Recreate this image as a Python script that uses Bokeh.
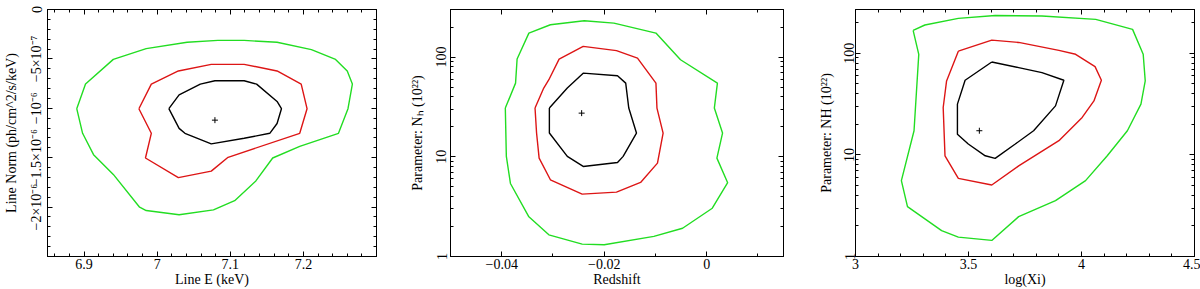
from bokeh.plotting import figure
from bokeh.models import Range1d, FixedTicker, LinearAxis, LogAxis
from bokeh.layouts import row
from bokeh.embed import file_html
from bokeh.resources import INLINE

# ---------------- Panel 1: Line E vs Line Norm ----------------
p1_green_x = [6.890, 6.902, 6.940, 6.985, 7.041, 7.083, 7.119, 7.164, 7.211, 7.244, 7.260, 7.267,
              7.261, 7.248, 7.195, 7.158, 7.135, 7.106, 7.077, 7.030, 6.985, 6.976, 6.940, 6.913, 6.898, 6.890]
p1_green_y = [-1.004e-6, -0.755e-6, -0.505e-6, -0.396e-6, -0.332e-6, -0.313e-6, -0.313e-6, -0.332e-6,
              -0.406e-6, -0.505e-6, -0.622e-6, -0.755e-6, -1.004e-6, -1.253e-6, -1.386e-6, -1.503e-6,
              -1.735e-6, -1.935e-6, -2.028e-6, -2.078e-6, -2.035e-6, -2.001e-6, -1.669e-6, -1.469e-6,
              -1.253e-6, -1.004e-6]
p1_red_x = [6.975, 6.992, 7.029, 7.074, 7.119, 7.164, 7.197, 7.205, 7.195, 7.097, 7.074, 7.029, 6.984, 6.992, 6.975]
p1_red_y = [-1.004e-6, -0.755e-6, -0.622e-6, -0.555e-6, -0.555e-6, -0.622e-6, -0.755e-6, -1.004e-6,
            -1.253e-6, -1.496e-6, -1.636e-6, -1.702e-6, -1.503e-6, -1.253e-6, -1.004e-6]
p1_black_x = [7.016, 7.030, 7.059, 7.079, 7.119, 7.136, 7.164, 7.170, 7.164, 7.154, 7.119, 7.074, 7.038, 7.030, 7.016]
p1_black_y = [-1.004e-6, -0.864e-6, -0.755e-6, -0.721e-6, -0.721e-6, -0.755e-6, -0.931e-6, -1.004e-6,
              -1.154e-6, -1.253e-6, -1.303e-6, -1.360e-6, -1.253e-6, -1.203e-6, -1.004e-6]
p1_best = (7.079, -1.12e-6)
p1_xticks = [6.9, 7.0, 7.1, 7.2]
p1_xlabels = ["6.9", "7", "7.1", "7.2"]
p1_yticks = [-2e-6, -1.5e-6, -1e-6, -5e-7, 0.0]
p1_ylabels = ["\u22122\u00d710\u207b\u2076", "\u22121.5\u00d710\u207b\u2076", "\u221210\u207b\u2076",
              "\u22125\u00d710\u207b\u2077", "0"]

# ---------------- Panel 2: Redshift vs NH ----------------
p2_green_x = [-0.0393, -0.0391, -0.0383, -0.0347, -0.0308, -0.0243, -0.0200, -0.0103, -0.0047, 0.0011,
              0.0041, 0.0020, 0.0031, 0.0015, 0.0021, -0.0051, -0.0099, -0.0181, -0.0239, -0.0305,
              -0.0347, -0.0370, -0.0373, -0.0393]
p2_green_y = [30.8, 10.1, 5.4, 2.5, 1.65, 1.33, 1.31, 1.59, 1.92, 3.05, 5.5, 9.7, 17.3, 30.8, 54.8, 94,
              174, 219, 231, 211, 174, 95.5, 54.8, 30.8]
p2_red_x = [-0.0335, -0.0332, -0.0327, -0.0305, -0.0243, -0.0176, -0.0129, -0.0096, -0.0085, -0.0097,
            -0.0099, -0.0135, -0.0176, -0.0241, -0.0288, -0.0308, -0.0318, -0.0335]
p2_red_y = [30.8, 17.3, 9.7, 5.88, 4.22, 4.42, 5.53, 8.64, 17.3, 30.8, 54.8, 97.7, 116, 128, 95.5, 59.3, 48.9, 30.8]
p2_black_x = [-0.0307, -0.0307, -0.0272, -0.0241, -0.0174, -0.0163, -0.0137, -0.0152, -0.0158, -0.0174,
              -0.0241, -0.0272, -0.0307]
p2_black_y = [30.8, 17.3, 10.1, 8.0, 8.77, 10.1, 17.3, 30.8, 54.8, 65, 69, 48.9, 30.8]
p2_best = (-0.0244, 27.4)
p2_xticks = [-0.04, -0.02, 0.0]
p2_xlabels = ["\u22120.04", "\u22120.02", "0"]

# ---------------- Panel 3: log(Xi) vs NH ----------------
p3_green_x = [3.255, 3.307, 3.455, 3.618, 3.825, 4.063, 4.226, 4.273, 4.282, 4.263, 4.203, 4.114, 4.018,
              3.885, 3.722, 3.603, 3.455, 3.381, 3.230, 3.203, 3.259, 3.280, 3.255]
p3_green_y = [168, 190, 221, 236, 233, 216, 172, 97.8, 53.5, 31.6, 17.3, 9.8, 5.58, 3.55, 2.47, 1.44,
              1.55, 1.80, 3.10, 5.58, 17.3, 97.8, 168]
p3_red_x = [3.455, 3.603, 3.722, 3.900, 3.974, 4.060, 4.088, 4.055, 4.003, 3.900, 3.722, 3.603, 3.455,
            3.396, 3.388, 3.403, 3.455]
p3_red_y = [105, 135, 128, 107, 97.8, 74, 54.3, 34, 23.4, 13.8, 7.8, 5.06, 5.88, 9.8, 29.3, 53.5, 105]
p3_black_x = [3.603, 3.722, 3.825, 3.922, 3.885, 3.788, 3.707, 3.618, 3.574, 3.499, 3.451, 3.451, 3.485, 3.603]
p3_black_y = [82.2, 72.3, 64.6, 54.3, 30.4, 17.3, 12.8, 9.24, 9.8, 12.8, 16.0, 31.6, 54.3, 82.2]
p3_best = (3.548, 17.3)
p3_xticks = [3.0, 3.5, 4.0, 4.5]
p3_xlabels = ["3", "3.5", "4", "4.5"]

log_ticks = [1, 10, 100]
log_labels = ["1", "10", "100"]
log_minor = [2, 3, 4, 5, 6, 7, 8, 9, 20, 30, 40, 50, 60, 70, 80, 90, 200, 300]

GREEN = "#22dd22"
RED = "#dd1515"
BLACK = "#000000"
FONT = "Liberation Serif"


def style(ax, ticks, minor, labels=None, label_size="14px", vertical=False):
    ax.ticker = FixedTicker(ticks=ticks, minor_ticks=minor)
    ax.major_tick_in = 5
    ax.major_tick_out = 0
    ax.minor_tick_in = 3
    ax.minor_tick_out = 0
    ax.axis_line_color = BLACK
    ax.major_tick_line_color = BLACK
    ax.minor_tick_line_color = BLACK
    ax.major_label_text_font = FONT
    ax.axis_label_text_font = FONT
    ax.axis_label_text_font_style = "normal"
    ax.axis_label_text_font_size = "14px"
    ax.axis_label_text_color = BLACK
    if labels is None:
        # tick marks only: labels are never drawn
        ax.major_label_text_font_size = "1px"
        ax.major_label_text_color = None
        ax.major_label_standoff = 0
        ax.axis_label = None
    else:
        ax.major_label_text_color = BLACK
        ax.major_label_text_font_size = label_size
        ax.major_label_overrides = {t: l for t, l in zip(ticks, labels)}
    if vertical:
        ax.major_label_orientation = "vertical"


def make(width, bl, br, bt, xr, yr, log, xticks, xminor, xlabels, yticks, yminor, ylabels,
         xtitle, ytitle, ylab_standoff, ymaj_standoff):
    p = figure(width=width, height=289, output_backend="svg", toolbar_location=None,
               x_range=Range1d(*xr), y_range=Range1d(*yr),
               y_axis_type="log" if log else "linear",
               min_border_left=bl, min_border_right=br, min_border_top=bt, min_border_bottom=32)
    p.grid.visible = False
    p.outline_line_color = BLACK
    p.background_fill_color = "white"
    p.border_fill_color = "white"
    xa = p.xaxis[0]
    ya = p.yaxis[0]
    style(xa, xticks, xminor, xlabels)
    xa.axis_label = xtitle
    xa.major_label_standoff = 2
    xa.axis_label_standoff = 0
    style(ya, yticks, yminor, ylabels, vertical=True)
    ya.axis_label = ytitle
    ya.major_label_standoff = ymaj_standoff
    ya.axis_label_standoff = ylab_standoff
    top = LinearAxis()
    style(top, xticks, xminor)
    p.add_layout(top, "above")
    right = LogAxis() if log else LinearAxis()
    style(right, yticks, yminor)
    p.add_layout(right, "right")
    return p


def r(a, b, step):
    out = []
    v = a
    while v <= b + step / 2:
        out.append(round(v, 10))
        v += step
    return out


p1_xminor = r(6.86, 7.28, 0.02)
p1_yminor = [round(-2.5e-6 + i * 1e-7, 14) for i in range(26)]
p1 = make(400, 43, 24, 7, (6.85, 7.3), (-2.5e-6, 0.0), False,
          p1_xticks, p1_xminor, p1_xlabels, p1_yticks, p1_yminor, p1_ylabels,
          "Line E (keV)", "Line Norm (ph/cm^2/s/keV)", 8, 3)
p1.line(p1_green_x, p1_green_y, line_color=GREEN, line_width=1.4)
p1.line(p1_red_x, p1_red_y, line_color=RED, line_width=1.4)
p1.line(p1_black_x, p1_black_y, line_color=BLACK, line_width=1.4)
p1.scatter([p1_best[0]], [p1_best[1]], marker="cross", size=6, line_color=BLACK, line_width=1)

p2_xminor = [-0.05, -0.03, -0.01, 0.01]
p2 = make(410, 50, 27, 9, (-0.05, 0.015), (1, 300), True,
          p2_xticks, p2_xminor, p2_xlabels, log_ticks, log_minor, log_labels,
          "Redshift", "Parameter: N\u2095 (10\u00b2\u00b2)", 9, 4)
p2.line(p2_green_x, p2_green_y, line_color=GREEN, line_width=1.4)
p2.line(p2_red_x, p2_red_y, line_color=RED, line_width=1.4)
p2.line(p2_black_x, p2_black_y, line_color=BLACK, line_width=1.4)
p2.scatter([p2_best[0]], [p2_best[1]], marker="cross", size=6, line_color=BLACK, line_width=1)

p3_xminor = r(3.1, 4.4, 0.1)
p3 = make(390, 45, 6, 4, (3.0, 4.5), (1, 270), True,
          p3_xticks, p3_xminor, p3_xlabels, log_ticks, log_minor, log_labels,
          "log(Xi)", "Parameter: NH (10\u00b2\u00b2)", 8, 1)
p3.line(p3_green_x, p3_green_y, line_color=GREEN, line_width=1.4)
p3.line(p3_red_x, p3_red_y, line_color=RED, line_width=1.4)
p3.line(p3_black_x, p3_black_y, line_color=BLACK, line_width=1.4)
p3.scatter([p3_best[0]], [p3_best[1]], marker="cross", size=6, line_color=BLACK, line_width=1)

layout = row(p1, p2, p3, spacing=0)
open("out.html", "w").write(file_html(layout, INLINE))
